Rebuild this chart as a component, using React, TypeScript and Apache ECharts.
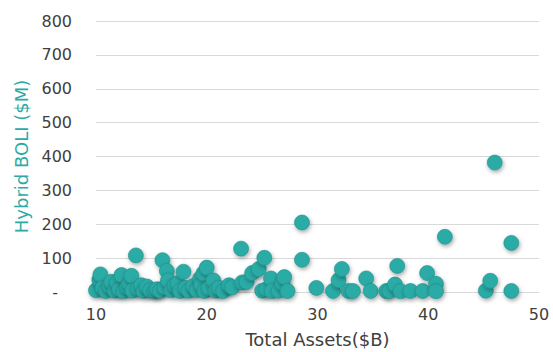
import React, { useEffect, useRef } from "react";
import * as echarts from "echarts";

// Total Assets ($B)
const totalAssets: number[] = [
  10.0, 10.3, 10.4, 10.6, 10.9, 11.2, 11.4, 11.7, 11.9, 12.1,
  12.3, 12.5, 12.8, 13.0, 13.2, 13.3, 13.6, 13.8, 14.1, 14.3,
  14.6, 14.9, 15.3, 15.5, 15.8, 16.0, 16.2, 16.4, 16.5, 16.8,
  17.1, 17.4, 17.6, 17.9, 18.1, 18.4, 18.8, 19.1, 19.4, 19.5,
  19.7, 19.8, 20.0, 20.2, 20.6, 20.8, 21.1, 21.5, 22.0, 22.3,
  23.1, 23.2, 23.6, 24.1, 24.7, 25.2, 25.0, 25.4, 25.8, 25.9,
  26.5, 26.8, 27.0, 27.3, 28.6, 28.6, 29.9, 31.4, 31.9, 32.2,
  32.8, 33.2, 34.4, 34.8, 36.2, 36.5, 37.0, 37.2, 37.5, 38.4,
  39.5, 39.9, 40.7, 40.7, 41.5, 45.2, 45.6, 46.0, 47.5, 47.5,
];
// Hybrid BOLI ($M)
const hybridBoli: number[] = [
  5, 36, 52, 12, 3, 18, 30, 4, 28, 8,
  50, 2, 15, 26, 48, 4, 108, 10, 20, 3,
  16, 5, 2, 8, 4, 94, 14, 62, 34, 5,
  20, 26, 3, 60, 12, 4, 18, 6, 40, 22,
  55, 3, 72, 12, 34, 4, 12, 3, 20, 14,
  128, 28, 30, 56, 68, 101, 4, 8, 40, 3,
  4, 27, 44, 3, 205, 95, 12, 3, 35, 68,
  3, 3, 40, 3, 3, 3, 22, 77, 2, 3,
  3, 56, 24, 2, 163, 4, 33, 382, 145, 3,
];

const xTicks = { min: 10, max: 50, interval: 10 };
const yTicks = { min: 0, max: 800, interval: 100 };

export default function App() {
  const ref = useRef<HTMLDivElement>(null);
  useEffect(() => {
    if (!ref.current) return;
    const chart = echarts.init(ref.current, undefined, { renderer: "svg" });
    const font = "DejaVu Sans";
    chart.setOption({
      animation: false,
      backgroundColor: "#ffffff",
      grid: { left: 96, right: 14, top: 21, bottom: 60, outerBoundsMode: "none" },
      xAxis: {
        type: "value",
        min: xTicks.min,
        max: xTicks.max,
        interval: xTicks.interval,
        name: "Total Assets($B)",
        nameLocation: "middle",
        nameGap: 38,
        nameTextStyle: { color: "#404040", fontSize: 18, fontFamily: font },
        axisLine: { show: false },
        axisTick: { show: false },
        splitLine: { show: false },
        axisLabel: { color: "#404040", fontSize: 16, fontFamily: font, margin: 14 },
      },
      yAxis: {
        type: "value",
        min: yTicks.min,
        max: yTicks.max,
        interval: yTicks.interval,
        name: "Hybrid BOLI ($M)",
        nameLocation: "middle",
        nameGap: 66,
        nameTextStyle: { color: "#2AABA6", fontSize: 18, fontFamily: font },
        axisLine: { show: false },
        axisTick: { show: false },
        splitLine: { show: true, lineStyle: { color: "#d9d9d9", width: 1 } },
        axisLabel: {
          color: "#404040",
          fontSize: 16,
          fontFamily: font,
          margin: 24,
          formatter: (v: number) => (v === 0 ? "{d|-}" : String(v)),
          rich: { d: { color: "#404040", fontSize: 16, fontFamily: font, padding: [0, 14, 0, 0] } },
        },
      },
      series: [
        {
          type: "scatter",
          symbol: "circle",
          symbolSize: 15,
          data: totalAssets.map((x, i) => [x, hybridBoli[i]]),
          itemStyle: {
            color: "#2AABA6",
            borderColor: "#228f8b",
            borderWidth: 0.6,
            opacity: 1,
            shadowBlur: 4,
            shadowColor: "rgba(0,0,0,0.35)",
            shadowOffsetX: 1,
            shadowOffsetY: 2,
          },
        },
      ],
    });
    return () => chart.dispose();
  }, []);
  return (
    <div
      ref={ref}
      style={{ position: "fixed", left: 0, top: 0, width: 553, height: 352 }}
    />
  );
}
